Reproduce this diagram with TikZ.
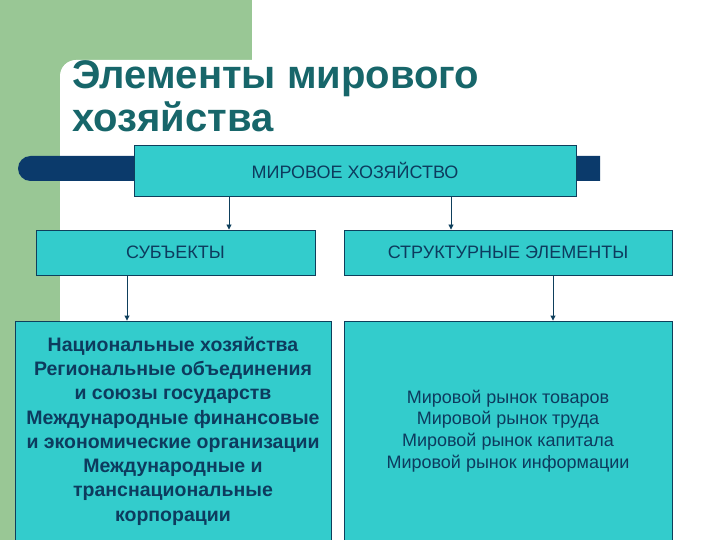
\documentclass[tikz,border=0pt]{standalone}
\usepackage{fontspec}
\setmainfont{Liberation Sans}
\usetikzlibrary{arrows.meta}
\definecolor{sidegreen}{HTML}{99C795}
\definecolor{navybar}{HTML}{0B3A6B}
\definecolor{turq}{HTML}{33CCCC}
\definecolor{boxline}{HTML}{0E3F5C}
\definecolor{boxtext}{HTML}{0D3B5E}
\definecolor{titlecol}{HTML}{17666A}
\tikzset{
  box/.style={draw=boxline, line width=0.9pt, fill=turq, text=boxtext, align=center, inner sep=0pt},
  arr/.style={draw=boxline, line width=0.9pt, -{Triangle[width=5pt,length=5pt]}},
}
\begin{document}
\begin{tikzpicture}[x=1pt,y=-1pt]
\useasboundingbox (0,0) rectangle (720,540);
\clip (0,0) rectangle (720,540);
% background
\fill[sidegreen] (0,0) rectangle (252,78);
\fill[sidegreen] (0,0) rectangle (78,540);
\fill[white,rounded corners=16] (60,60) rectangle (760,580);
% title
\node[anchor=north west, text=titlecol, font=\fontsize{40}{43}\selectfont\bfseries, align=left, inner sep=0pt] (title) at (72,60.5) {Элементы мирового\\хозяйства};
% bar
\fill[navybar] (600,156) -- (30.5,156) arc[start angle=270, end angle=90, radius=12.5] -- (600,181) -- cycle;
% boxes
\node[box, minimum width=442, minimum height=51, font=\fontsize{18}{21}\selectfont] (top) at (355,170.5) {МИРОВОЕ ХОЗЯЙСТВО};
\node[box, minimum width=279, minimum height=45, font=\fontsize{18}{21}\selectfont] (subj) at (175.5,252.5) {СУБЪЕКТЫ};
\node[box, minimum width=328, minimum height=45, font=\fontsize{18}{21}\selectfont] (struct) at (508,252.5) {СТРУКТУРНЫЕ ЭЛЕМЕНТЫ};
\node[box, minimum width=316, minimum height=220, font=\fontsize{19.5}{24.3}\selectfont\bfseries] (natl) at (173,431) {Национальные хозяйства\\Региональные объединения\\и союзы государств\\Международные финансовые\\и экономические организации\\Международные и\\транснациональные\\корпорации};
\node[box, minimum width=328, minimum height=220, font=\fontsize{18}{21.7}\selectfont] (mkt) at (508,431) {Мировой рынок товаров\\Мировой рынок труда\\Мировой рынок капитала\\Мировой рынок информации};
% arrows
\coordinate (a1) at (229,0);
\coordinate (a2) at (451,0);
\coordinate (a3) at (127,0);
\coordinate (a4) at (553,0);
\draw[arr] (top.south -| a1) -- (subj.north -| a1);
\draw[arr] (top.south -| a2) -- (struct.north -| a2);
\draw[arr] (subj.south -| a3) -- (natl.north -| a3);
\draw[arr] (struct.south -| a4) -- (mkt.north -| a4);
\end{tikzpicture}
\end{document}
